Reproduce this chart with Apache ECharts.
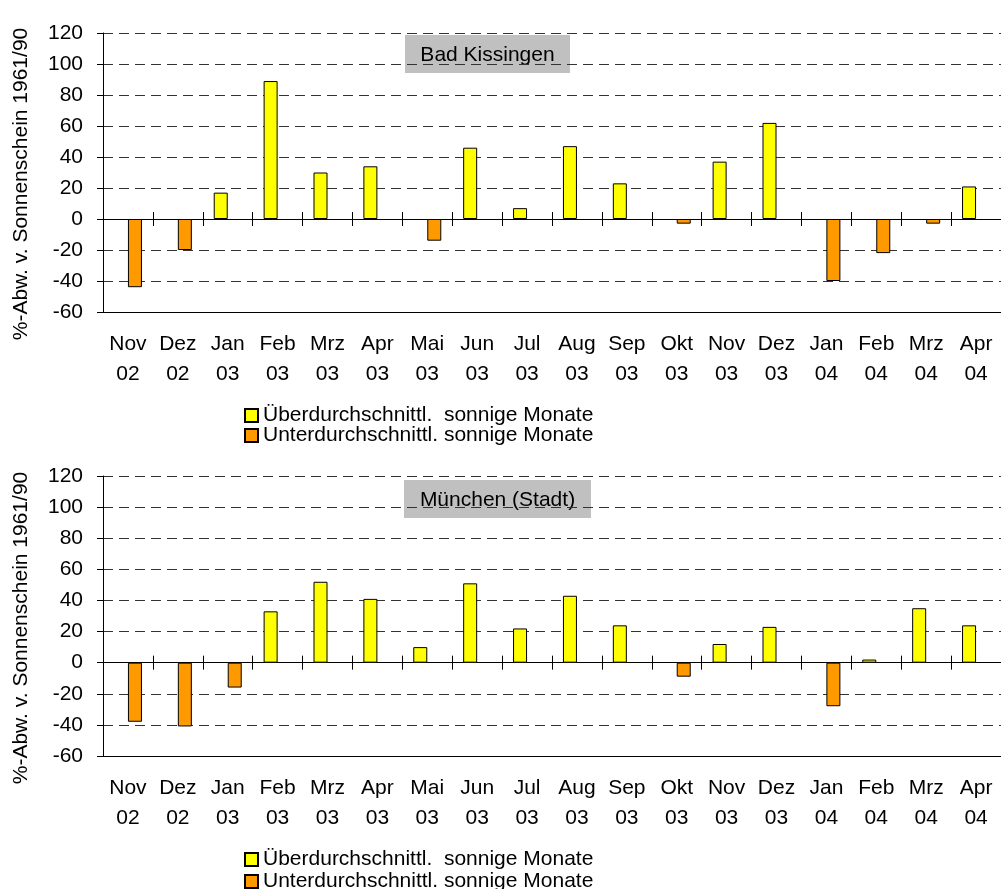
<!DOCTYPE html>
<html>
<head>
<meta charset="utf-8">
<script src="https://cdn.jsdelivr.net/npm/echarts@6/dist/echarts.min.js"></script>
<style>
  html, body { margin: 0; padding: 0; background: #fff; }
  #chart { width: 1001px; height: 889px; }
</style>
</head>
<body>
<div id="chart"></div>
<script>
// month labels, two lines each
const months = ["Nov\n02", "Dez\n02", "Jan\n03", "Feb\n03", "Mrz\n03", "Apr\n03", "Mai\n03", "Jun\n03", "Jul\n03",
  "Aug\n03", "Sep\n03", "Okt\n03", "Nov\n03", "Dez\n03", "Jan\n04", "Feb\n04", "Mrz\n04", "Apr\n04"];

// % deviation from 1961/90 sunshine
const kissingen = [-44, -20, 17, 89, 30, 34, -14, 46, 7, 47, 23, -3, 37, 62, -40, -22, -3, 21];
const muenchen = [-38, -41, -16, 33, 52, 41, 10, 51, 22, 43, 24, -9, 12, 23, -28, 2, 35, 24];

const stations = ["Bad Kissingen", "München (Stadt)"];
const yName = "%-Abw. v. Sonnenschein 1961/90";
const overName = "Überdurchschnittl.  sonnige Monate";
const underName = "Unterdurchschnittl. sonnige Monate";

const yMin = -60, yMax = 120, yStep = 20;

const FONT = '"Liberation Sans", Arial, sans-serif';
const black = { color: "#000", width: 1 };

const grids = [
  { left: 103, right: -2, top: 33, height: 279 },
  { left: 103, right: -2, top: 476, height: 280 },
];

const xAxes = [];
const yAxes = [];
const series = [];
[kissingen, muenchen].forEach((vals, g) => {
  // axis carrying the labels, sits on the -60 line
  xAxes.push({
    gridIndex: g, type: "category", data: months, position: "bottom",
    axisLine: { onZero: false, lineStyle: black },
    axisTick: { show: false },
    axisLabel: { fontSize: 21, lineHeight: 30, color: "#000", margin: 17, fontFamily: FONT },
  });
  // zero line with ticks downwards
  xAxes.push({
    gridIndex: g, type: "category", data: months, position: "bottom",
    axisLine: { onZero: true, onZeroAxisIndex: g, lineStyle: black },
    axisTick: { show: true, length: 7, lineStyle: black },
    axisLabel: { show: false },
  });
  // zero line with ticks upwards
  xAxes.push({
    gridIndex: g, type: "category", data: months, position: "top",
    axisLine: { onZero: true, onZeroAxisIndex: g, lineStyle: black },
    axisTick: { show: true, length: 7, lineStyle: black },
    axisLabel: { show: false },
  });
  yAxes.push({
    gridIndex: g, type: "value", min: yMin, max: yMax, interval: yStep,
    axisLine: { show: true, onZero: false, lineStyle: black },
    axisTick: { show: true, length: 6, lineStyle: black },
    axisLabel: { fontSize: 21, color: "#000", margin: 20, fontFamily: FONT },
    splitLine: { show: true, lineStyle: { color: "#333", width: 1, type: [10, 6] } },
  });
  series.push({
    name: overName, type: "bar", xAxisIndex: g * 3, yAxisIndex: g,
    data: vals.map((v) => (v > 0 ? v : "-")),
    barWidth: 14, barGap: "0%",
    itemStyle: { color: "#ffff00", borderColor: "#000", borderWidth: 1 },
  });
  series.push({
    name: underName, type: "bar", xAxisIndex: g * 3, yAxisIndex: g,
    data: vals.map((v) => (v < 0 ? v : "-")),
    barWidth: 14, barGap: "0%",
    itemStyle: { color: "#ff9900", borderColor: "#000", borderWidth: 1 },
  });
});

// one legend entry per component so the lower block is not wrapped at the page edge
function legendRow(name, top) {
  return {
    data: [name], orient: "vertical", left: 244, top: top,
    itemWidth: 13, itemHeight: 13, itemGap: 0, padding: 0, icon: "rect",
    textStyle: { fontSize: 21, lineHeight: 21, color: "#000", fontFamily: FONT },
  };
}

function titleBox(x, y, w, h, text) {
  return {
    type: "group", z: 100,
    children: [
      { type: "rect", shape: { x: x, y: y, width: w, height: h }, style: { fill: "#c0c0c0" } },
      { type: "text", x: x + w / 2, y: y + h / 2 + 1,
        style: { text: text, font: "21px " + FONT, fill: "#000", align: "center", verticalAlign: "middle" } },
    ],
  };
}
function yTitle(x, y) {
  return {
    type: "text", x: x, y: y, rotation: Math.PI / 2, z: 100,
    style: { text: yName, font: "21px " + FONT, fill: "#000", align: "center", verticalAlign: "middle" },
  };
}

const chart = echarts.init(document.getElementById("chart"));
chart.setOption({
  animation: false,
  backgroundColor: "#fff",
  textStyle: { fontFamily: FONT },
  grid: grids,
  xAxis: xAxes,
  yAxis: yAxes,
  legend: [
    legendRow(overName, 405),
    legendRow(underName, 425),
    legendRow(overName, 849),
    legendRow(underName, 871),
  ],
  graphic: [
    titleBox(405, 35, 165, 38, stations[0]),
    titleBox(404, 480, 187, 38, stations[1]),
    yTitle(21, 184),
    yTitle(21, 628),
  ],
  series: series,
});
</script>
</body>
</html>
